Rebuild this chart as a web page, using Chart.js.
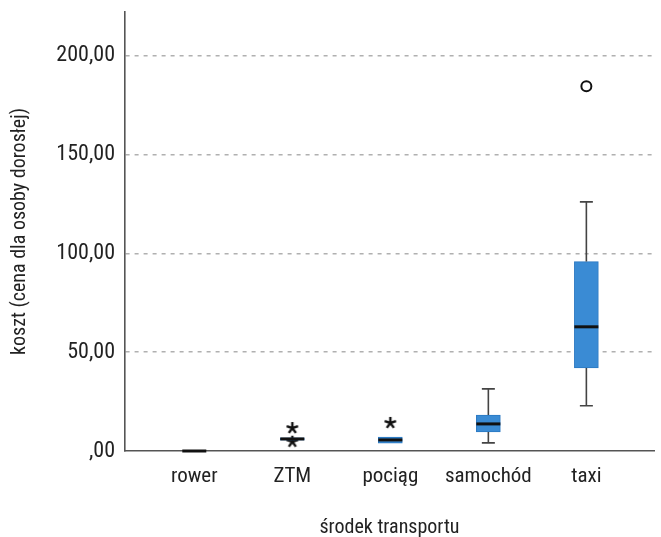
<!DOCTYPE html>
<html>
<head>
<meta charset="utf-8">
<script src="https://cdn.jsdelivr.net/npm/chart.js@4/dist/chart.umd.min.js"></script>
<style>
  html, body { margin: 0; padding: 0; background: #fff; }
  #wrap { width: 661px; height: 537px; }
</style>
</head>
<body>
<div id="wrap"><canvas id="boxChart" width="661" height="537"></canvas></div>
<script>
const categories = ["rower", "ZTM", "pociąg", "samochód", "taxi"];
const whiskerLow = [0, 5.5, 4.0, 4.1, 22.9];
const q1 = [0, 5.5, 4.0, 9.6, 42.0];
const median = [0, 6.1, 5.6, 13.7, 62.8];
const q3 = [0, 6.6, 7.0, 18.2, 95.8];
const whiskerHigh = [0, 6.6, 7.0, 31.4, 126.0];
const outliers = [{ x: 4, y: 184.5 }];            // circles
const extremes = [{ x: 1, y: 11.6 }, { x: 1, y: 4.7 }, { x: 2, y: 14.2 }]; // stars
const yTicks = [0, 50, 100, 150, 200];

const FONT = "'Liberation Sans Narrow', 'Roboto Condensed', Roboto, sans-serif";

// asterisk marker like SPSS uses for extreme values
function makeStar() {
    const c = document.createElement("canvas");
    c.width = 14; c.height = 14;
    const g = c.getContext("2d");
    g.strokeStyle = "#111";
    g.lineWidth = 2.4;
    for (let k = 0; k < 5; k++) {
        const a = (-90 + k * 72) * Math.PI / 180;
        g.beginPath();
        g.moveTo(7, 7);
        g.lineTo(7 + Math.cos(a) * 6, 7 + Math.sin(a) * 6);
        g.stroke();
    }
    return c;
}

const boxExtras = {
    id: "boxExtras",
    afterDatasetsDraw(chart) {
        const ctx = chart.ctx;
        const xs = chart.scales.x, ys = chart.scales.y;
        ctx.save();
        categories.forEach(function(cat, i) {
            const x = xs.getPixelForValue(i);
            const cap = 6.5;
            ctx.strokeStyle = "#444";
            ctx.lineWidth = 1.6;
            if (whiskerHigh[i] > q3[i]) {
                const yTop = ys.getPixelForValue(whiskerHigh[i]);
                ctx.beginPath();
                ctx.moveTo(x, ys.getPixelForValue(q3[i]));
                ctx.lineTo(x, yTop);
                ctx.moveTo(x - cap, yTop);
                ctx.lineTo(x + cap, yTop);
                ctx.stroke();
            }
            if (whiskerLow[i] < q1[i]) {
                const yBot = ys.getPixelForValue(whiskerLow[i]);
                ctx.beginPath();
                ctx.moveTo(x, ys.getPixelForValue(q1[i]));
                ctx.lineTo(x, yBot);
                ctx.moveTo(x - cap, yBot);
                ctx.lineTo(x + cap, yBot);
                ctx.stroke();
            }
            // median
            const ym = ys.getPixelForValue(median[i]);
            ctx.strokeStyle = "#111";
            ctx.lineWidth = 3;
            ctx.beginPath();
            ctx.moveTo(x - 12, ym);
            ctx.lineTo(x + 12, ym);
            ctx.stroke();
        });
        ctx.restore();
    }
};

const ctx = document.getElementById("boxChart").getContext("2d");

new Chart(ctx, {
    data: {
        datasets: [
            {
                type: "bar",
                data: categories.map(function(c, i) { return { x: i, y: [q1[i], q3[i]] }; }),
                backgroundColor: "#3a8bd4",
                borderColor: "#2a78c2",
                borderWidth: 1,
                borderSkipped: false,
                barThickness: 24
            },
            {
                type: "scatter",
                data: outliers,
                pointStyle: "circle",
                radius: 5,
                borderWidth: 2,
                borderColor: "#111",
                backgroundColor: "#fff"
            },
            {
                type: "scatter",
                data: extremes,
                pointStyle: makeStar()
            }
        ]
    },
    options: {
        responsive: false,
        animation: false,
        devicePixelRatio: 1,
        layout: { padding: { top: 12, right: 0, left: 0, bottom: 0 } },
        plugins: {
            legend: { display: false },
            tooltip: { enabled: false }
        },
        scales: {
            x: {
                type: "linear",
                offset: false,
                min: -0.707,
                max: 4.69,
                afterBuildTicks: function(scale) {
                    scale.ticks = categories.map(function(c, i) { return { value: i }; });
                },
                afterFit: function(scale) {
                    scale.height = 86;
                    scale.paddingLeft = 0;
                    scale.paddingRight = 0;
                },
                ticks: {
                    callback: function(v) { return categories[v]; },
                    font: { family: FONT, size: 21 },
                    color: "#222",
                    padding: 5,
                    maxRotation: 0
                },
                grid: { display: false },
                border: { display: true, color: "#555", width: 1.6 },
                title: {
                    display: true,
                    text: "środek transportu",
                    font: { family: FONT, size: 20, lineHeight: 1 },
                    color: "#222",
                    padding: { top: 0, bottom: -1 }
                }
            },
            y: {
                min: 0,
                max: 222,
                afterBuildTicks: function(scale) {
                    scale.ticks = yTicks.map(function(v) { return { value: v }; });
                },
                afterFit: function(scale) {
                    scale.width = 125;
                    scale.paddingTop = 0;
                    scale.paddingBottom = 0;
                },
                ticks: {
                    callback: function(v) { return v === 0 ? ",00" : v.toFixed(2).replace(".", ","); },
                    font: { family: FONT, size: 22 },
                    color: "#222",
                    padding: 10
                },
                grid: {
                    drawTicks: false,
                    color: function(c) { return c.tick && c.tick.value === 0 ? "rgba(0,0,0,0)" : "#b0b0b0"; },
                    lineWidth: 1.5
                },
                border: { display: true, color: "#555", width: 1.6, dash: [4, 5] },
                title: {
                    display: true,
                    text: "koszt (cena dla osoby dorosłej)",
                    font: { family: FONT, size: 20, lineHeight: 1 },
                    color: "#222",
                    padding: { top: 10, bottom: 0 }
                }
            }
        }
    },
    plugins: [boxExtras]
});
</script>
</body>
</html>
